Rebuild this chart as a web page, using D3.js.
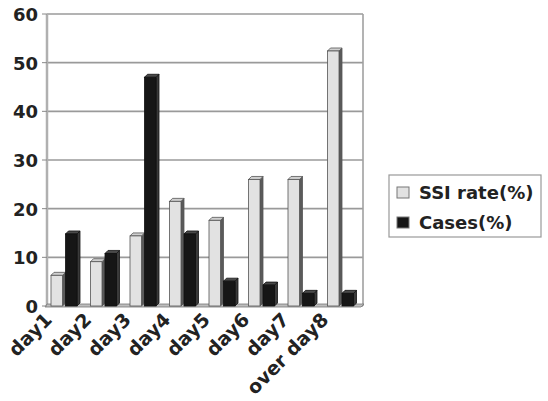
<!DOCTYPE html>
<html lang="en">
<head>
<meta charset="utf-8">
<title>SSI rate and cases by day</title>
<style>
  body { margin: 0; background: #fff; }
  text { font-family: "DejaVu Sans", sans-serif; font-weight: bold; fill: #222; }
</style>
</head>
<body>
<script src="https://cdn.jsdelivr.net/npm/d3@7"></script>
<script>
// data
var days = ["day1", "day2", "day3", "day4", "day5", "day6", "day7", "over day8"];
var seriesNames = ["SSI rate(%)", "Cases(%)"];
var ssiRate = [6.3, 9.1, 14.4, 21.5, 17.6, 26, 26, 52.4];
var cases = [14.8, 10.8, 47, 14.8, 5.1, 4.3, 2.6, 2.6];
var yTicks = [0, 10, 20, 30, 40, 50, 60];

var w = 548, h = 401;
var plotLeft = 47, plotRight = 363, plotTop = 14, plotBottom = 306;
var dx = 3, dy = -3; // 3d depth

var svg = d3.select("body").append("svg")
  .attr("width", w)
  .attr("height", h);

var x = d3.scaleBand().domain(days).range([plotLeft, plotRight]);
var x1 = d3.scaleBand().domain(seriesNames).range([4, 33]).paddingInner(0);
var y = d3.scaleLinear().domain([0, 60]).range([plotBottom, plotTop]);

// walls and gridlines
svg.append("g").selectAll("line")
  .data(yTicks)
  .enter().append("line")
  .attr("x1", plotLeft).attr("x2", plotRight)
  .attr("y1", function(d) { return y(d); })
  .attr("y2", function(d) { return y(d); })
  .attr("stroke", "#9a9a9a")
  .attr("stroke-width", 1.6);

svg.append("line")
  .attr("x1", plotLeft).attr("x2", plotLeft)
  .attr("y1", plotTop).attr("y2", plotBottom)
  .attr("stroke", "#b0b0b0").attr("stroke-width", 2.5);
svg.append("line")
  .attr("x1", plotRight).attr("x2", plotRight)
  .attr("y1", plotTop).attr("y2", plotBottom)
  .attr("stroke", "#a0a0a0").attr("stroke-width", 1.6);

// floor
svg.append("path")
  .attr("d", "M" + (plotLeft - 2) + "," + (plotBottom + 1) + "L" + (plotRight - 2) + "," + (plotBottom + 1) +
       "L" + (plotRight + 1) + "," + (plotBottom - 2) + "L" + plotLeft + "," + (plotBottom - 2) + "Z")
  .attr("fill", "#bdbdbd").attr("stroke", "#777").attr("stroke-width", 0.8);

// y axis ticks + labels
var ya = svg.append("g");
ya.selectAll("line")
  .data(yTicks)
  .enter().append("line")
  .attr("x1", plotLeft - 5).attr("x2", plotLeft)
  .attr("y1", function(d) { return y(d); })
  .attr("y2", function(d) { return y(d); })
  .attr("stroke", "#888");
ya.selectAll("text")
  .data(yTicks)
  .enter().append("text")
  .attr("x", 38)
  .attr("y", function(d) { return y(d) + 7; })
  .attr("text-anchor", "end")
  .attr("font-size", "18px")
  .text(function(d) { return d; });

// bars
var data = [];
days.forEach(function(d, i) {
  data.push({ day: d, s: seriesNames[0], v: ssiRate[i] });
  data.push({ day: d, s: seriesNames[1], v: cases[i] });
});
var fills = {
  "SSI rate(%)": { front: "#e2e2e2", side: "#5a5a5a", top: "#cfcfcf", stroke: "#555" },
  "Cases(%)": { front: "#161616", side: "#3a3a3a", top: "#4a4a4a", stroke: "#111" }
};

var bars = svg.append("g").selectAll("g")
  .data(data)
  .enter().append("g");

bars.append("path")
  .attr("d", function(d) {
    var x0 = x(d.day) + x1(d.s) + x1.bandwidth() - dx, yt = y(d.v), yb = y(0);
    return "M" + x0 + "," + yt + "L" + (x0 + dx) + "," + (yt + dy) + "L" + (x0 + dx) + "," + (yb + dy) +
      "L" + x0 + "," + yb + "Z";
  })
  .attr("fill", function(d) { return fills[d.s].side; })
  .attr("stroke", function(d) { return fills[d.s].stroke; })
  .attr("stroke-width", 0.8);

bars.append("path")
  .attr("d", function(d) {
    var x0 = x(d.day) + x1(d.s), x2 = x0 + x1.bandwidth() - dx, yt = y(d.v);
    return "M" + x0 + "," + yt + "L" + (x0 + dx) + "," + (yt + dy) + "L" + (x2 + dx) + "," + (yt + dy) +
      "L" + x2 + "," + yt + "Z";
  })
  .attr("fill", function(d) { return fills[d.s].top; })
  .attr("stroke", function(d) { return fills[d.s].stroke; })
  .attr("stroke-width", 0.8);

bars.append("rect")
  .attr("x", function(d) { return x(d.day) + x1(d.s); })
  .attr("y", function(d) { return y(d.v); })
  .attr("width", x1.bandwidth() - dx)
  .attr("height", function(d) { return y(0) - y(d.v); })
  .attr("fill", function(d) { return fills[d.s].front; })
  .attr("stroke", function(d) { return fills[d.s].stroke; })
  .attr("stroke-width", 0.8);

// x labels
svg.append("g").selectAll("text")
  .data(days)
  .enter().append("text")
  .attr("text-anchor", "end")
  .attr("font-size", "19px")
  .attr("transform", function(d) {
    return "translate(" + (x(d) + 6) + "," + 321 + ") rotate(-45)";
  })
  .text(function(d) { return d; });

// legend
var lg = svg.append("g");
lg.append("rect")
  .attr("x", 389).attr("y", 175)
  .attr("width", 152).attr("height", 62)
  .attr("fill", "#fff").attr("stroke", "#999").attr("stroke-width", 1.2);
var li = lg.selectAll("g")
  .data(seriesNames)
  .enter().append("g")
  .attr("transform", function(d, i) { return "translate(397," + (187 + i * 30) + ")"; });
li.append("rect")
  .attr("width", 12).attr("height", 11)
  .attr("fill", function(d) { return fills[d].front; })
  .attr("stroke", "#777");
li.append("text")
  .attr("x", 22).attr("y", 12)
  .attr("font-size", "18px")
  .text(function(d) { return d; });
</script>
</body>
</html>
